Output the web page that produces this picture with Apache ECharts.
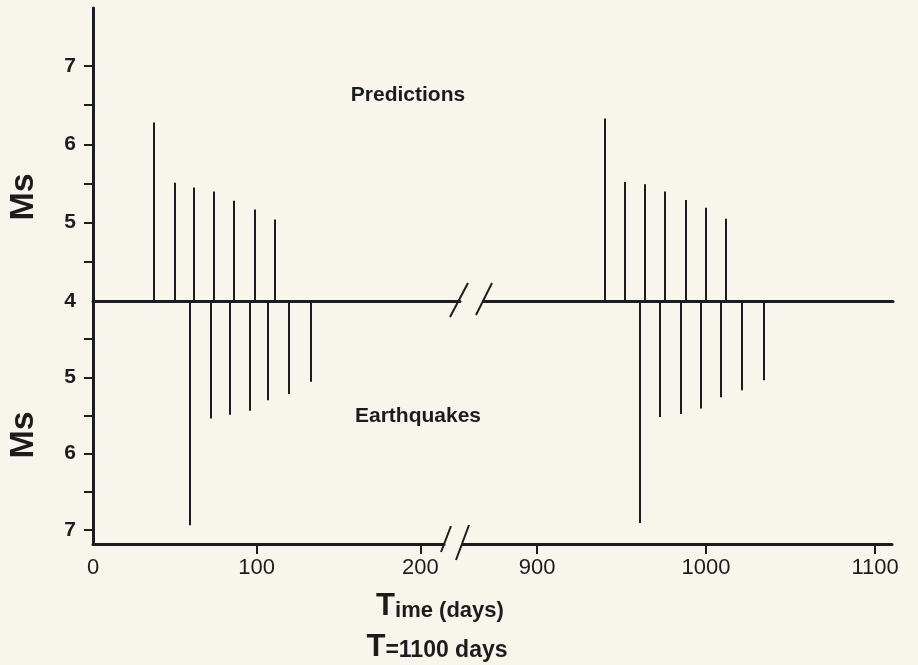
<!DOCTYPE html>
<html>
<head>
<meta charset="utf-8">
<script src="https://cdn.jsdelivr.net/npm/echarts@6/dist/echarts.min.js"></script>
<style>
  html, body { margin: 0; padding: 0; background: #f8f6ec; }
  #chart { width: 918px; height: 665px; }
</style>
</head>
<body>
<div id="chart"></div>
<script>
// ---- Data ----
// First cycle (days 0-200)
var predTimesA  = [37, 50, 62, 74, 86, 99, 111];
var predMsA     = [6.28, 5.51, 5.45, 5.40, 5.28, 5.17, 5.04];
var quakeTimesA = [59, 72, 84, 96, 107, 120, 133];
var quakeMsA    = [6.94, 5.54, 5.49, 5.44, 5.30, 5.22, 5.06];
// Second cycle (days 900-1100)
var predTimesB  = [940, 952, 964, 976, 988, 1000, 1012];
var predMsB     = [6.33, 5.52, 5.49, 5.40, 5.29, 5.19, 5.05];
var quakeTimesB = [961, 973, 985, 997, 1009, 1021, 1034];
var quakeMsB    = [6.91, 5.52, 5.48, 5.41, 5.26, 5.17, 5.04];

var baseMs = 4;
var yTickValues = [4.5, 5, 5.5, 6, 6.5, 7];
var yLabelsUpper = [4, 5, 6, 7];
var yLabelsLower = [5, 6, 7];
var xTicksA = [100, 200];
var xLabelsA = [0, 100, 200];
var xTicksB = [900, 1000, 1100];

function pairs(ts, vs) { return ts.map(function (t, i) { return [t, vs[i]]; }); }

var INK = '#1c1c1c';
var FONT = "'Liberation Sans', Arial, sans-serif";

function stickSeries(xi, yi, data) {
  return {
    type: 'custom',
    xAxisIndex: xi, yAxisIndex: yi,
    data: data,
    encode: { x: 0, y: 1 },
    clip: false,
    renderItem: function (params, api) {
      var t = api.value(0), v = api.value(1);
      var p0 = api.coord([t, baseMs]);
      var p1 = api.coord([t, v]);
      var x = Math.round(p0[0]);
      return {
        type: 'line',
        shape: { x1: x, y1: p0[1], x2: x, y2: p1[1] },
        style: { stroke: INK, lineWidth: 2 }
      };
    }
  };
}

var axisLineStyle = { show: true, onZero: false, lineStyle: { color: INK, width: 3 } };
function plain(v) { return String(v); }

var chart = echarts.init(document.getElementById('chart'), null, { renderer: 'canvas' });

var option = {
  backgroundColor: '#f8f6ec',
  animation: false,
  grid: [
    { left: 93, top: 8,   width: 367, height: 293 },   // upper left
    { left: 484, top: 8,  width: 409, height: 293 },   // upper right
    { left: 93, top: 301, width: 351, height: 243 },   // lower left
    { left: 463, top: 301, width: 429, height: 243 }   // lower right
  ],
  xAxis: [
    { type: 'value', gridIndex: 0, min: 0, max: 224.3,
      axisLine: axisLineStyle, axisTick: { show: false }, axisLabel: { show: false }, splitLine: { show: false } },
    { type: 'value', gridIndex: 1, min: 868.6, max: 1110.7,
      axisLine: axisLineStyle, axisTick: { show: false }, axisLabel: { show: false }, splitLine: { show: false } },
    { type: 'value', gridIndex: 2, min: 0, max: 214.5,
      axisLine: axisLineStyle,
      axisTick: { show: true, customValues: xTicksA, length: 10, lineStyle: { color: INK, width: 2 } },
      axisLabel: { show: true, customValues: xLabelsA, margin: 13, color: INK, fontSize: 22, fontFamily: FONT,
                   formatter: plain },
      splitLine: { show: false } },
    { type: 'value', gridIndex: 3, min: 856.2, max: 1110,
      axisLine: axisLineStyle,
      axisTick: { show: true, customValues: xTicksB, length: 10, lineStyle: { color: INK, width: 2 } },
      axisLabel: { show: true, customValues: xTicksB, margin: 13, color: INK, fontSize: 22, fontFamily: FONT,
                   formatter: plain },
      splitLine: { show: false } }
  ],
  yAxis: [
    { type: 'value', gridIndex: 0, min: 4, max: 7.742,
      axisLine: axisLineStyle,
      axisTick: { show: true, customValues: yTickValues, length: 9, lineStyle: { color: INK, width: 2 } },
      axisLabel: { show: true, customValues: yLabelsUpper, margin: 17, color: INK, fontSize: 21,
                   fontWeight: 'bold', fontFamily: FONT, formatter: plain },
      splitLine: { show: false } },
    { type: 'value', gridIndex: 1, min: 4, max: 7.742, show: false },
    { type: 'value', gridIndex: 2, min: 4, max: 7.185, inverse: true,
      axisLine: axisLineStyle,
      axisTick: { show: true, customValues: yTickValues, length: 9, lineStyle: { color: INK, width: 2 } },
      axisLabel: { show: true, customValues: yLabelsLower, margin: 17, color: INK, fontSize: 21,
                   fontWeight: 'bold', fontFamily: FONT, formatter: plain },
      splitLine: { show: false } },
    { type: 'value', gridIndex: 3, min: 4, max: 7.185, inverse: true, show: false }
  ],
  series: [
    stickSeries(0, 0, pairs(predTimesA, predMsA)),
    stickSeries(1, 1, pairs(predTimesB, predMsB)),
    stickSeries(2, 2, pairs(quakeTimesA, quakeMsA)),
    stickSeries(3, 3, pairs(quakeTimesB, quakeMsB))
  ],
  graphic: [
    // axis title "Ms" (upper and lower)
    { type: 'text', x: 24, y: 197, rotation: Math.PI / 2,
      style: { text: 'Ms', font: 'bold 34px ' + FONT, fill: INK, align: 'center', verticalAlign: 'middle' } },
    { type: 'text', x: 24, y: 435, rotation: Math.PI / 2,
      style: { text: 'Ms', font: 'bold 34px ' + FONT, fill: INK, align: 'center', verticalAlign: 'middle' } },
    // panel labels
    { type: 'text', x: 408, y: 95,
      style: { text: 'Predictions', font: 'bold 21px ' + FONT, fill: INK, align: 'center', verticalAlign: 'middle' } },
    { type: 'text', x: 418, y: 416,
      style: { text: 'Earthquakes', font: 'bold 21px ' + FONT, fill: INK, align: 'center', verticalAlign: 'middle' } },
    // x-axis title
    { type: 'text', x: 440, y: 606,
      style: {
        text: '{t|T}{r|ime (days)}', align: 'center', verticalAlign: 'middle',
        rich: {
          t: { font: 'bold 31px ' + FONT, fill: INK, verticalAlign: 'bottom' },
          r: { font: 'bold 22px ' + FONT, fill: INK, verticalAlign: 'bottom' }
        }
      } },
    { type: 'text', x: 437, y: 647,
      style: {
        text: '{t|T}{r|=1100 days}', align: 'center', verticalAlign: 'middle',
        rich: {
          t: { font: 'bold 31px ' + FONT, fill: INK, verticalAlign: 'bottom' },
          r: { font: 'bold 23px ' + FONT, fill: INK, verticalAlign: 'bottom' }
        }
      } },
    // axis break marks on the middle line
    { type: 'line', shape: { x1: 450, y1: 317, x2: 468, y2: 283 }, style: { stroke: INK, lineWidth: 2 } },
    { type: 'line', shape: { x1: 476, y1: 315, x2: 492, y2: 283 }, style: { stroke: INK, lineWidth: 2 } },
    // axis break marks on the bottom axis
    { type: 'line', shape: { x1: 441, y1: 552, x2: 451, y2: 526 }, style: { stroke: INK, lineWidth: 2 } },
    { type: 'line', shape: { x1: 456, y1: 560, x2: 469, y2: 525 }, style: { stroke: INK, lineWidth: 2 } }
  ]
};

chart.setOption(option);
</script>
</body>
</html>
